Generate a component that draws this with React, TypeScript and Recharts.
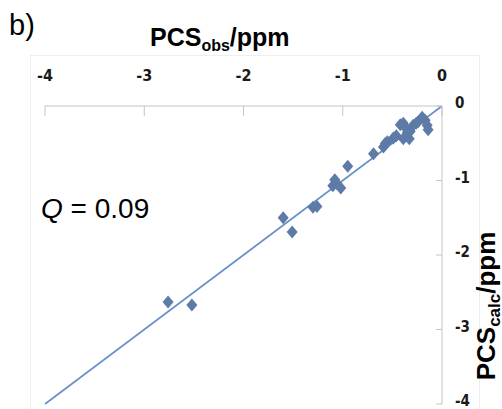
import React from 'react';
import { ScatterChart, Scatter, XAxis, YAxis, ReferenceLine } from 'recharts';

// Observed vs. calculated pseudocontact shifts (ppm)
const obsValues = [
  -2.76, -2.52, -1.6, -1.51, -1.3, -1.26, -1.1, -1.08, -1.06, -1.02, -0.95,
  -0.69, -0.59, -0.57, -0.55, -0.49, -0.46, -0.42, -0.39, -0.37, -0.35, -0.32,
  -0.33, -0.29, -0.26, -0.24, -0.2, -0.17, -0.15, -0.14, -0.39,
];
const calcValues = [
  -2.63, -2.67, -1.5, -1.69, -1.36, -1.35, -1.07, -0.99, -1.04, -1.1, -0.81,
  -0.64, -0.55, -0.5, -0.48, -0.43, -0.4, -0.25, -0.44, -0.29, -0.36, -0.34,
  -0.44, -0.26, -0.23, -0.21, -0.15, -0.19, -0.26, -0.32, -0.23,
];
const axisTicks = [-4, -3, -2, -1, 0];
const axisDomain: [number, number] = [-4, 0];
const qLabel = '0.09';

const points = obsValues.map((obs, i) => ({ obs, calc: calcValues[i] }));

const AXIS_GREY = '#c4c4c4';
const MARKER = '#5d7ba6';
const LINE = '#6690c8';
const TICK_FONT = '"Liberation Sans Narrow", "DejaVu Sans Condensed", "Liberation Sans", sans-serif';
const TEXT_FONT = '"Liberation Sans", Arial, sans-serif';

const TopTick = (props: any) => {
  const { x, y, payload } = props;
  return (
    <g>
      <line x1={x} y1={y} x2={x} y2={y + 10} stroke={AXIS_GREY} strokeWidth={1} />
      <text x={x} y={y - 25} textAnchor="middle" fontFamily={TICK_FONT} fontWeight="bold" fontSize={16} fill="#1a1a1a">
        {payload.value}
      </text>
    </g>
  );
};

const RightTick = (props: any) => {
  const { x, y, payload } = props;
  return (
    <g>
      <line x1={x - 6} y1={y} x2={x} y2={y} stroke={AXIS_GREY} strokeWidth={1} />
      <text x={x + 13} y={y + 2} textAnchor="start" fontFamily={TICK_FONT} fontWeight="bold" fontSize={15} fill="#1a1a1a">
        {payload.value}
      </text>
    </g>
  );
};

const Diamond = (props: any) => {
  const { cx, cy } = props;
  if (cx == null || cy == null) return null;
  const w = 5.5;
  const h = 6.5;
  return <path d={`M${cx},${cy - h}L${cx + w},${cy}L${cx},${cy + h}L${cx - w},${cy}Z`} fill={MARKER} />;
};

export default function App() {
  return (
    <div style={{ position: 'absolute', left: 0, top: 0, width: 502, height: 409, background: '#fff', overflow: 'hidden' }}>
      <div
        style={{
          position: 'absolute',
          left: 30,
          top: 55,
          width: 448,
          height: 400,
          borderTop: '1px solid #eeeeee',
          borderLeft: '1px solid #f2f2f2',
          borderRight: '1px solid #eeeeee',
        }}
      />
      <ScatterChart width={502} height={409} margin={{ top: 0, right: 0, bottom: 5, left: 45 }}>
        <XAxis
          type="number"
          dataKey="obs"
          orientation="top"
          domain={axisDomain}
          ticks={axisTicks}
          height={106}
          tickSize={0}
          tickMargin={0}
          tickLine={false}
          axisLine={{ stroke: AXIS_GREY }}
          tick={<TopTick />}
          interval={0}
          allowDataOverflow
        />
        <YAxis
          type="number"
          dataKey="calc"
          orientation="right"
          domain={axisDomain}
          ticks={axisTicks}
          width={60}
          tickSize={0}
          tickMargin={0}
          tickLine={false}
          axisLine={{ stroke: AXIS_GREY }}
          tick={<RightTick />}
          interval={0}
          allowDataOverflow
        />
        <Scatter data={points} shape={<Diamond />} isAnimationActive={false} />
        <ReferenceLine
          segment={[
            { x: -4, y: -4 },
            { x: 0, y: 0 },
          ]}
          stroke={LINE}
          strokeWidth={1.6}
        />
      </ScatterChart>

      <div style={{ position: 'absolute', left: 9, top: 9, fontFamily: TEXT_FONT, fontSize: 29, lineHeight: '32px', color: '#000' }}>
        b)
      </div>
      <div
        style={{
          position: 'absolute',
          left: 150,
          top: 22,
          fontFamily: TEXT_FONT,
          fontWeight: 'bold',
          fontSize: 25,
          lineHeight: '30px',
          color: '#000',
          whiteSpace: 'nowrap',
        }}
      >
        PCS<sub style={{ fontSize: 16, verticalAlign: '-5px' }}>obs</sub>/ppm
      </div>
      <div
        style={{
          position: 'absolute',
          left: 490,
          top: 306,
          transform: 'translate(-50%, -50%) rotate(-90deg)',
          fontFamily: TEXT_FONT,
          fontWeight: 'bold',
          fontSize: 26,
          lineHeight: '30px',
          color: '#000',
          whiteSpace: 'nowrap',
        }}
      >
        PCS<sub style={{ fontSize: 17, verticalAlign: '-5px' }}>calc</sub>/ppm
      </div>
      <div
        style={{
          position: 'absolute',
          left: 41,
          top: 193,
          fontFamily: TEXT_FONT,
          fontSize: 28,
          lineHeight: '32px',
          color: '#000',
          whiteSpace: 'nowrap',
        }}
      >
        <i>Q</i> = {qLabel}
      </div>
    </div>
  );
}
